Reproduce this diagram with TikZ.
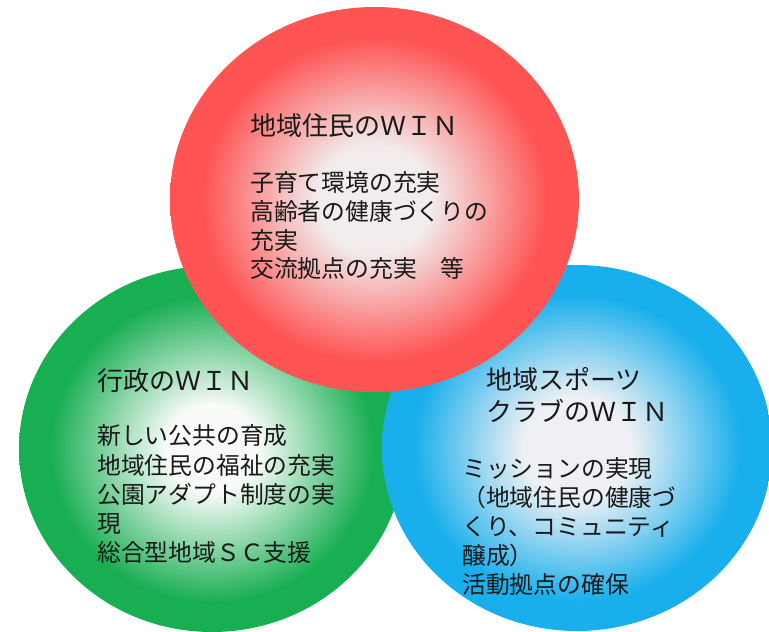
\documentclass[tikz,border=0pt]{standalone}
\usepackage{fontspec}
\newfontfamily\jp{Noto Sans CJK JP}
\definecolor{rout}{HTML}{FF5454}
\definecolor{rin}{HTML}{F2ECEC}
\definecolor{gout}{HTML}{18AE52}
\definecolor{gin}{HTML}{F8FBF8}
\definecolor{bout}{HTML}{18AFEC}
\definecolor{bin}{HTML}{EEF0F4}
\pgfdeclareradialshading{redglow}{\pgfpoint{0bp}{0bp}}{color(0bp)=(rin); color(7bp)=(rin); color(21bp)=(rout); color(25bp)=(rout); color(50bp)=(rout)}
\pgfdeclareradialshading{greenglow}{\pgfpoint{0bp}{0bp}}{color(0bp)=(gin); color(6bp)=(gin); color(21bp)=(gout); color(25bp)=(gout); color(50bp)=(gout)}
\pgfdeclareradialshading{blueglow}{\pgfpoint{0bp}{0bp}}{color(0bp)=(bin); color(7bp)=(bin); color(21bp)=(bout); color(25bp)=(bout); color(50bp)=(bout)}
\begin{document}
\begin{tikzpicture}[x=1pt,y=-1pt,
  ttl/.style={anchor=base west,inner sep=0pt,font=\jp\fontsize{26}{30}\selectfont,text=black!90},
  body/.style={anchor=base west,inner sep=0pt,font=\jp\fontsize{23.8}{29}\selectfont,text=black!90}]
\useasboundingbox (0,0) rectangle (769,632);
% circles
\shade[shading=greenglow] (212,449) ellipse [x radius=193, y radius=183];
\shade[shading=blueglow] (577,448) ellipse [x radius=195, y radius=183];
\shade[shading=redglow] (374.5,199.5) ellipse [x radius=204.5, y radius=192.5];
% red texts
\node[ttl] (rt) at (250,135) {地域住民のＷＩＮ};
\node[body] (r1) at (250,191) {子育て環境の充実};
\node[body] (r2) at (250,220) {高齢者の健康づくりの};
\node[body] (r3) at (250,249) {充実};
\node[body] (r4) at (250,277) {交流拠点の充実　等};
% green texts
\node[ttl] (gt) at (97,390) {行政のＷＩＮ};
\node[body] (g1) at (97,444) {新しい公共の育成};
\node[body] (g2) at (97,474) {地域住民の福祉の充実};
\node[body] (g3) at (97,503) {公園アダプト制度の実};
\node[body] (g4) at (97,532) {現};
\node[body] (g5) at (97,561) {総合型地域ＳＣ支援};
% blue texts
\node[ttl] (bt1) at (486,389) {地域スポーツ};
\node[ttl] (bt2) at (486,421) {クラブのＷＩＮ};
\node[body] (b1) at (462,477) {ミッションの実現};
\node[body] (b2) at (462,506) {（地域住民の健康づ};
\node[body] (b3) at (462,535) {くり、コミュニティ};
\node[body] (b4) at (462,564) {醸成）};
\node[body] (b5) at (462,593) {活動拠点の確保};
\end{tikzpicture}
\end{document}
